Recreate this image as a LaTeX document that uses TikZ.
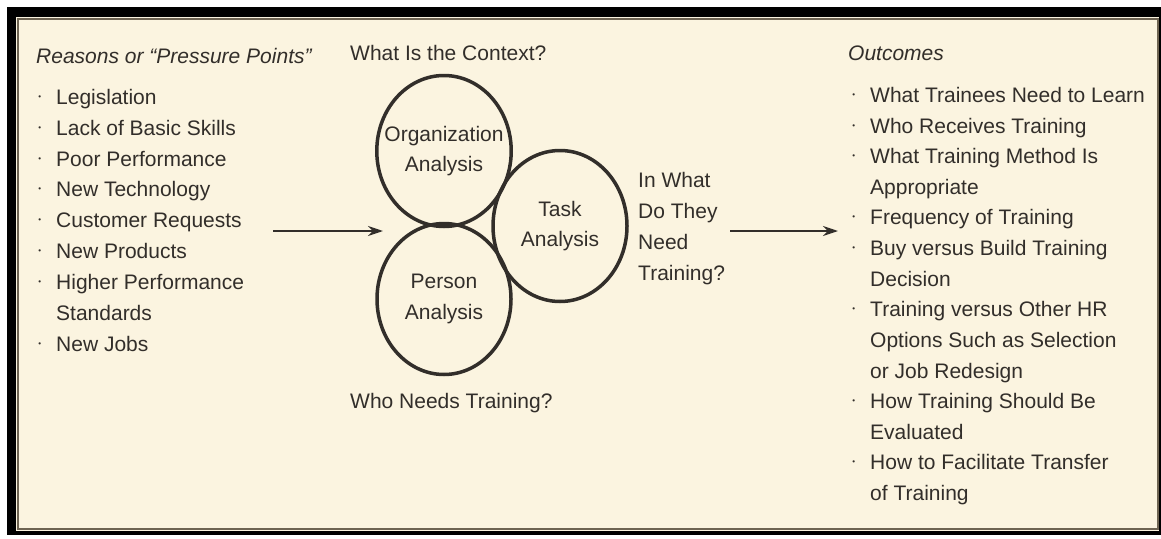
\documentclass[tikz,border=0pt]{standalone}
\usepackage{fontspec}
\setmainfont{Liberation Sans}
\usepackage{tikz}
\usetikzlibrary{shapes.geometric, arrows.meta, positioning}
\definecolor{linen}{RGB}{251,244,224}
\definecolor{ink}{RGB}{50,46,42}
\definecolor{frameline}{RGB}{110,100,82}
\newcommand{\diagfont}{\fontsize{21}{30.7}\selectfont}
\newcommand{\bul}{\llap{\raisebox{0.45ex}{\fontsize{8}{8}\selectfont\textbullet}\hspace{15pt}}}
\tikzstyle{heading} = [anchor=base west, inner sep=0pt, text=ink, font=\diagfont\itshape]
\tikzstyle{item} = [anchor=base west, inner sep=0pt, text=ink, align=left]
\tikzstyle{question} = [anchor=base west, inner sep=0pt, text=ink, align=left]
\tikzstyle{analysis} = [ellipse, draw=ink, line width=3.5pt, minimum width=134pt, minimum height=151pt, inner xsep=-12pt, inner ysep=0pt, text=ink, align=center]
\tikzstyle{arrow} = [draw=ink, line width=2.2pt, -{Stealth[length=15pt,width=10pt]}]

\begin{document}
\begin{tikzpicture}[x=1pt, y=-1pt, font=\diagfont]

    % frame
    \fill[white] (0,0) rectangle (1161,538);
    \fill[black] (7,7) rectangle (1161,535);
    \fill[linen] (16,17) rectangle (1159,531);
    \draw[frameline, line width=1.5pt] (18,19) rectangle (1158,529);
    \useasboundingbox (0,0) rectangle (1161,538);

    % reasons (multi-line nodes sit on their last line)
    \node (reasons_title) [heading] at (36,63) {Reasons or “Pressure Points”};

    \node (legislation) [item] at (56,104) {\bul Legislation};

    \node (basic_skills) [item] at (56,135) {\bul Lack of Basic Skills};

    \node (poor_performance) [item] at (56,166) {\bul Poor Performance};

    \node (new_technology) [item] at (56,196) {\bul New Technology};

    \node (customer_requests) [item] at (56,227) {\bul Customer Requests};

    \node (new_products) [item] at (56,258) {\bul New Products};

    \node (higher_standards) [item] at (56,320) {\bul Higher Performance\\Standards};

    \node (new_jobs) [item] at (56,351) {\bul New Jobs};

    % analyses
    \node (context_question) [question] at (350,60) {What Is the Context?};

    \node (org_analysis) [analysis] at (444,151) {Organization\\Analysis};

    \node (task_analysis) [analysis] at (560,226) {Task\\Analysis};

    \node (person_analysis) [analysis] at (444,299) {Person\\Analysis};

    \node (who_question) [question] at (350,408) {Who Needs Training?};

    \node (what_question) [question] at (638,280) {In What\\Do They\\Need\\Training?};

    % outcomes
    \node (outcomes_title) [heading] at (848,60) {Outcomes};

    \node (learn) [item] at (870,102) {\bul What Trainees Need to Learn};

    \node (receives) [item] at (870,133) {\bul Who Receives Training};

    \node (method) [item] at (870,194) {\bul What Training Method Is\\Appropriate};

    \node (frequency) [item] at (870,224) {\bul Frequency of Training};

    \node (buy_build) [item] at (870,286) {\bul Buy versus Build Training\\Decision};

    \node (hr_options) [item] at (870,378) {\bul Training versus Other HR\\Options Such as Selection\\or Job Redesign};

    \node (evaluated) [item] at (870,439) {\bul How Training Should Be\\Evaluated};

    \node (transfer) [item] at (870,500) {\bul How to Facilitate Transfer\\of Training};

    \coordinate (reasons_out) at (273,231);
    \coordinate (analysis_in) at (383,231);
    \coordinate (analysis_out) at (730,231);
    \coordinate (outcomes_in) at (838,231);

    \draw [arrow] (reasons_out) -- (analysis_in);

    \draw [arrow] (analysis_out) -- (outcomes_in);

\end{tikzpicture}
\end{document}
